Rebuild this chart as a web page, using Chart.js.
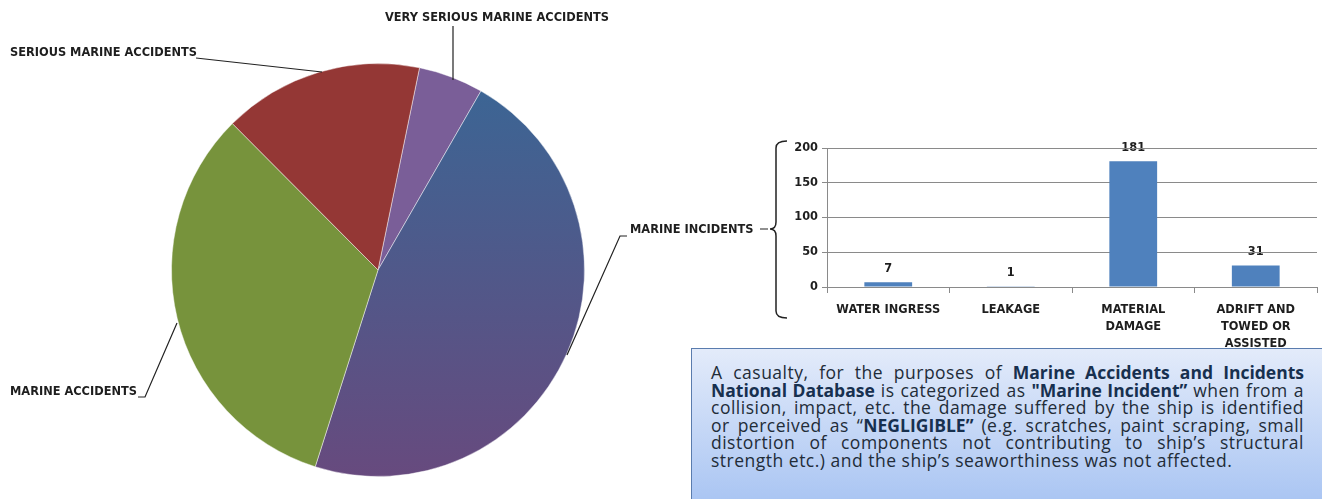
<!DOCTYPE html>
<html>
<head>
<meta charset="utf-8">
<script src="https://cdn.jsdelivr.net/npm/chart.js@4.4.1/dist/chart.umd.min.js"></script>
<style>
  body { margin: 0; background: #fff; width: 1322px; height: 499px; overflow: hidden; position: relative; }
  #pie { position: absolute; left: 0; top: 0; }
  #bars { position: absolute; left: 780px; top: 130px; }
  #note {
    position: absolute; left: 691px; top: 348px; width: 593px; height: 150px;
    padding: 15px 30px 0 19px;
    border: 1px solid #5a7cae;
    background: linear-gradient(#e3ebfa, #a5c2f2);
    font-family: "Open Sans", sans-serif; font-size: 17.5px; line-height: 17.5px;
    letter-spacing: 0.5px; color: #222c38; z-index: 2;
  }
  #note div { white-space: nowrap; text-align: justify; text-align-last: justify; }
  #note div.last { text-align-last: left; }
  #note b { color: #17304f; letter-spacing: 0; }
</style>
</head>
<body>
<canvas id="pie" width="790" height="499"></canvas>
<canvas id="bars" width="542" height="225"></canvas>
<div id="note">
  <div>A casualty, for the purposes of <b>Marine Accidents and Incidents</b></div>
  <div><b>National Database</b> is categorized as <b>"Marine Incident”</b> when from a</div>
  <div>collision, impact, etc. the damage suffered by the ship is identified</div>
  <div>or perceived as “<b>NEGLIGIBLE”</b> (e.g. scratches, paint scraping, small</div>
  <div>distortion of components not contributing to ship’s structural</div>
  <div class="last">strength etc.) and the ship’s seaworthiness was not affected.</div>
</div>
<script>
// pie: casualty categories
const pieLabels = ["VERY SERIOUS MARINE ACCIDENTS", "MARINE INCIDENTS", "MARINE ACCIDENTS", "SERIOUS MARINE ACCIDENTS"];
const pieValues = [24, 220, 154, 74];
const pieColors = ["#7a5e98", null, "#77933c", "#943735"];

// bar: marine incident breakdown
const barLabels = [["WATER INGRESS"], ["LEAKAGE"], ["MATERIAL", "DAMAGE"], ["ADRIFT AND", "TOWED OR", "ASSISTED"]];
const barValues = [7, 1, 181, 31];
const yTicks = [0, 50, 100, 150, 200];

const labelFont = "bold 11.4px 'DejaVu Sans'";
const textColor = "#1e1e1e";
const gridColor = "#8a8a8a";

// labels + leader lines for the pie, and the bracket towards the bar chart
const pieCallouts = {
  id: "pieCallouts",
  afterDraw(chart) {
    const ctx = chart.ctx;
    ctx.save();
    ctx.font = labelFont;
    ctx.fillStyle = textColor;
    ctx.textBaseline = "middle";
    ctx.textAlign = "left";
    ctx.fillText(pieLabels[0], 385, 18);
    ctx.fillText(pieLabels[3], 10, 53);
    ctx.fillText(pieLabels[2], 10, 392);
    ctx.fillText(pieLabels[1], 630, 230);

    ctx.strokeStyle = "#222";
    ctx.lineWidth = 1.2;
    ctx.beginPath();
    ctx.moveTo(453, 26); ctx.lineTo(453, 80);
    ctx.moveTo(196, 58); ctx.lineTo(322, 72);
    ctx.moveTo(138, 397); ctx.lineTo(145, 397); ctx.lineTo(177, 323);
    ctx.moveTo(627, 236); ctx.lineTo(620, 236); ctx.lineTo(567, 355);
    ctx.moveTo(760, 229); ctx.lineTo(768, 229);
    ctx.stroke();

    // curly bracket
    ctx.lineWidth = 1.5;
    ctx.beginPath();
    ctx.moveTo(787, 141);
    ctx.quadraticCurveTo(776, 141, 776, 148);
    ctx.lineTo(776, 222);
    ctx.quadraticCurveTo(776, 229, 770, 229);
    ctx.quadraticCurveTo(776, 229, 776, 236);
    ctx.lineTo(776, 311);
    ctx.quadraticCurveTo(776, 318, 787, 318);
    ctx.stroke();
    ctx.restore();
  }
};

new Chart(document.getElementById("pie"), {
  type: "pie",
  data: {
    labels: pieLabels,
    datasets: [{
      data: pieValues,
      backgroundColor: (c) => {
        if (c.dataIndex !== 1) return pieColors[c.dataIndex];
        const g = c.chart.ctx.createLinearGradient(0, 90, 0, 477);
        g.addColorStop(0, "#3c6594");
        g.addColorStop(1, "#674a7e");
        return g;
      },
      borderColor: "rgba(255,255,255,0.45)",
      borderWidth: 1
    }]
  },
  options: {
    responsive: false,
    animation: false,
    rotation: 11.6,
    layout: { padding: { top: 63, bottom: 22, left: 171, right: 205 } },
    plugins: { legend: { display: false }, tooltip: { enabled: false } }
  },
  plugins: [pieCallouts]
});

// value labels drawn before the grid so grid lines cross them like in the source
const valueLabels = {
  id: "valueLabels",
  beforeDraw(chart) {
    const ctx = chart.ctx;
    const meta = chart.getDatasetMeta(0);
    ctx.save();
    ctx.font = labelFont;
    ctx.fillStyle = textColor;
    ctx.textAlign = "center";
    ctx.textBaseline = "alphabetic";
    meta.data.forEach((bar, i) => ctx.fillText(String(barValues[i]), bar.x, bar.y - 10));
    ctx.restore();
  }
};

new Chart(document.getElementById("bars"), {
  type: "bar",
  data: {
    labels: barLabels,
    datasets: [{
      data: barValues,
      backgroundColor: "#4f81bd",
      barPercentage: 0.39,
      categoryPercentage: 1
    }]
  },
  options: {
    responsive: false,
    animation: false,
    layout: { padding: { top: 18, right: 5, left: 0, bottom: 0 } },
    plugins: { legend: { display: false }, tooltip: { enabled: false } },
    scales: {
      y: {
        min: 0, max: 200,
        afterBuildTicks: (s) => { s.ticks = yTicks.map(v => ({ value: v })); },
        afterFit: (s) => { s.width = 47; },
        ticks: { font: { family: "DejaVu Sans", size: 11.4, weight: "bold" }, color: textColor, padding: 4 },
        grid: { color: gridColor, tickLength: 5 },
        border: { color: gridColor }
      },
      x: {
        afterFit: (s) => { s.height = 68; },
        ticks: {
          font: { family: "DejaVu Sans", size: 11.4, weight: "bold", lineHeight: 1.5 },
          color: textColor, padding: 8, maxRotation: 0, autoSkip: false
        },
        grid: { drawOnChartArea: false, tickLength: 6, color: gridColor, offset: true },
        border: { color: gridColor }
      }
    }
  },
  plugins: [valueLabels]
});
</script>
</body>
</html>
